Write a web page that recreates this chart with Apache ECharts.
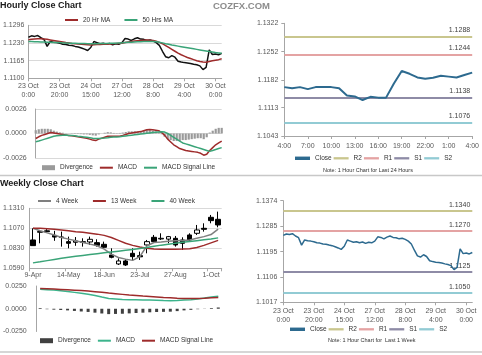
<!DOCTYPE html>
<html><head><meta charset="utf-8">
<script src="https://cdn.jsdelivr.net/npm/echarts@6/dist/echarts.min.js"></script>
<style>html,body{margin:0;padding:0;background:#fff}#c{width:482px;height:355px}</style>
</head><body><div id="c"></div>
<script>
// ---------- Hourly (last week, 2-hour steps) ----------
const hourlyTickLabels = ['23 Oct\n0:00','23 Oct\n20:00','24 Oct\n15:00','27 Oct\n12:00','28 Oct\n8:00','29 Oct\n4:00','30 Oct\n0:00'];
const hourlyClose = [1.1252,1.1257,1.1255,1.1258,1.1250,1.1244,1.1218,1.1236,1.1233,1.1232,
 1.1230,1.1226,1.1225,1.1222,1.1221,1.1218,1.1216,1.1212,1.1208,1.1203,
 1.1214,1.1236,1.1232,1.1228,1.1230,1.1226,1.1229,1.1224,1.1228,1.1226,
 1.1232,1.1247,1.1245,1.1240,1.1246,1.1250,1.1245,1.1244,1.1240,1.1242,
 1.1238,1.1232,1.1222,1.1200,1.1180,1.1176,1.1184,1.1178,1.1163,1.1160,
 1.1158,1.1157,1.1155,1.1152,1.1150,1.1146,1.1132,1.1140,1.1205,1.1188,
 1.1190,1.1187,1.1192];
const ma20 = [1.1243,1.1244,1.1245,1.1246,1.1246,1.1245,1.1244,1.1242,1.1240,1.1238,
 1.1236,1.1234,1.1232,1.1231,1.1229,1.1228,1.1227,1.1226,1.1225,1.1224,
 1.1223,1.1224,1.1225,1.1225,1.1226,1.1226,1.1227,1.1228,1.1229,1.1229,
 1.1230,1.1232,1.1234,1.1236,1.1238,1.1239,1.1240,1.1241,1.1242,1.1241,
 1.1240,1.1237,1.1233,1.1228,1.1221,1.1214,1.1207,1.1200,1.1193,1.1187,
 1.1182,1.1177,1.1173,1.1169,1.1165,1.1162,1.1160,1.1159,1.1162,1.1165,
 1.1167,1.1169,1.1172];
const ma50 = [1.1236,1.1236,1.1235,1.1235,1.1234,1.1234,1.1233,1.1233,1.1232,1.1232,
 1.1232,1.1231,1.1231,1.1230,1.1230,1.1230,1.1229,1.1229,1.1229,1.1228,
 1.1228,1.1228,1.1228,1.1229,1.1229,1.1229,1.1230,1.1230,1.1230,1.1231,
 1.1231,1.1232,1.1233,1.1233,1.1234,1.1235,1.1235,1.1236,1.1236,1.1236,
 1.1236,1.1235,1.1233,1.1231,1.1228,1.1226,1.1223,1.1221,1.1219,1.1217,
 1.1215,1.1213,1.1211,1.1209,1.1207,1.1205,1.1203,1.1201,1.1199,1.1197,
 1.1195,1.1194,1.1193];
const hourlyMacd = [-0.00053,-0.00035,-0.0002,-0.0001,0.0000,0.0001,0.00005,0.0000,-0.00005,-0.0001,
 -0.00015,-0.0002,-0.00025,-0.0003,-0.00035,-0.0004,-0.00045,-0.0005,-0.0006,-0.0007,
 -0.00075,-0.0006,-0.0005,-0.0004,-0.0003,-0.00028,-0.0003,-0.0003,-0.00028,-0.0002,
 -0.0001,0.0000,0.00005,0.0001,0.00015,0.0002,0.0003,0.0004,0.00042,0.0004,
 0.00035,0.0003,0.0001,-0.0002,-0.0006,-0.0009,-0.0012,-0.0014,-0.0016,-0.0017,
 -0.0018,-0.00185,-0.0019,-0.00195,-0.002,-0.0021,-0.0023,-0.0022,-0.0018,-0.0015,
 -0.0012,-0.001,-0.0008];
const hourlySignal = [-0.00088,-0.0008,-0.0007,-0.0006,-0.0005,-0.0004,-0.0003,-0.00025,-0.0002,-0.00018,
 -0.00017,-0.0002,-0.00022,-0.00025,-0.0003,-0.00033,-0.00036,-0.0004,-0.00045,-0.0005,
 -0.00052,-0.00052,-0.0005,-0.00048,-0.00045,-0.0004,-0.00038,-0.00036,-0.00034,-0.0003,
 -0.00026,-0.00022,-0.00018,-0.00014,-0.0001,-0.00006,-0.00002,0.00002,0.00006,0.0001,
 0.00013,0.00016,0.00018,0.00015,0.0000,-0.0002,-0.0004,-0.0006,-0.0008,-0.001,
 -0.0011,-0.0012,-0.0013,-0.0014,-0.0015,-0.0016,-0.0017,-0.0018,-0.0019,-0.0018,
 -0.0017,-0.0016,-0.0015];
const hourlyDivergence = [0.00035,0.00045,0.0005,0.0005,0.0005,0.00045,0.0003,0.0002,0.00012,0.00008,
 0.00002,0.0000,-0.00003,-0.00005,-0.00005,-0.00007,-0.0001,-0.0001,-0.00015,-0.0002,
 -0.00023,-0.0001,0.0000,0.00008,0.00015,0.00012,0.00006,0.00004,0.00006,0.0001,
 0.00016,0.00022,0.00023,0.00024,0.00021,0.00026,0.00028,0.00038,0.00036,0.0003,
 0.00022,0.00014,-0.00008,-0.00035,-0.0006,-0.0007,-0.0008,-0.0008,-0.0008,-0.0007,
 -0.0007,-0.00065,-0.0006,-0.00055,-0.0005,-0.0005,-0.0006,-0.0004,0.0001,0.0003,
 0.0005,0.0006,0.0006];
const hourlyPriceTicks = [1.1100,1.1165,1.1230,1.1296];
const hourlyMacdTicks = [-0.0026,0,0.0026];

// ---------- Last 24 hours ----------
const dayTickLabels = ['4:00','7:00','10:00','13:00','16:00','19:00','22:00','1:00','4:00'];
const dayClose = [1.1164,1.1161,1.1164,1.1159,1.1164,1.1164,1.1164,1.1161,1.1143,1.1141,1.1132,1.1140,1.1138,
 1.1138,1.1173,1.1204,1.1197,1.1188,1.1185,1.1187,1.1192,1.1190,1.1188,1.1194,1.1200];
const dayLevels = [1.1288,1.1244,1.1138,1.1076];
const dayPriceTicks = [1.1043,1.1113,1.1182,1.1252,1.1322];

// ---------- Weekly ----------
const weekTickLabels = ['9-Apr','14-May','18-Jun','23-Jul','27-Aug','1-Oct'];
const weekOpen  = [1.0930,1.1022,1.1040,1.0985,1.0966,1.0910,1.0902,1.0900,1.0906,1.0898,1.0878,1.0750,1.0642,1.0678,1.0770,1.0742,1.0870,1.0962,1.0942,1.0940,1.0950,1.0930,1.0990,1.1010,1.1070,1.1202,1.1178];
const weekClose = [1.0862,1.1032,1.1030,1.0965,1.0960,1.0890,1.0918,1.0910,1.0938,1.0866,1.0842,1.0722,1.0678,1.0630,1.0730,1.0728,1.0910,1.0910,1.0950,1.0970,1.0870,1.0890,1.0930,1.1050,1.1058,1.1162,1.1110];
const weekLow   = [1.0862,1.0890,1.1018,1.0920,1.0850,1.0830,1.0860,1.0850,1.0870,1.0850,1.0830,1.0710,1.0630,1.0618,1.0690,1.0690,1.0770,1.0898,1.0930,1.0890,1.0850,1.0810,1.0910,1.0990,1.1030,1.1130,1.1082];
const weekHigh  = [1.1070,1.1050,1.1060,1.1040,1.1030,1.0970,1.0965,1.0950,1.0970,1.0938,1.0910,1.0830,1.0710,1.0698,1.0830,1.0790,1.0930,1.0990,1.1010,1.0978,1.0978,1.0962,1.1010,1.1110,1.1130,1.1230,1.1270];
const week4  = [1.1070,1.1040,1.1015,1.0990,1.0960,1.0940,1.0920,1.0900,1.0880,1.0860,1.0820,1.0760,1.0720,1.0700,1.0685,1.0730,1.0860,1.0900,1.0905,1.0915,1.0920,1.0925,1.0930,1.0950,1.0970,1.0995,1.1060];
const week13 = [1.1070,1.1070,1.1066,1.1058,1.1050,1.1040,1.1030,1.1022,1.1012,1.1000,1.0985,1.0960,1.0925,1.0890,1.0865,1.0845,1.0830,1.0822,1.0820,1.0820,1.0820,1.0822,1.0825,1.0840,1.0865,1.0895,1.0925];
const week40 = [1.0655,1.0668,1.0682,1.0696,1.0710,1.0722,1.0734,1.0745,1.0756,1.0766,1.0776,1.0786,1.0796,1.0806,1.0816,1.0828,1.0840,1.0855,1.0868,1.0880,1.0892,1.0902,1.0912,1.0922,1.0932,1.0942,1.0955];
const weekMacd   = [0.0215,0.0210,0.0205,0.0198,0.0190,0.0180,0.0170,0.0160,0.0145,0.0128,0.0113,0.0108,0.0103,0.0100,0.0098,0.0096,0.0095,0.0093,0.0090,0.0088,0.0090,0.0095,0.0100,0.0108,0.0118,0.0128,0.0138];
const weekSignal = [0.0222,0.0220,0.0216,0.0212,0.0208,0.0204,0.0200,0.0194,0.0188,0.0180,0.0172,0.0165,0.0158,0.0151,0.0145,0.0139,0.0134,0.0129,0.0124,0.0120,0.0116,0.0113,0.0112,0.0113,0.0116,0.0120,0.0124];
const weekDivergence = [0.0008,-0.0005,-0.0010,-0.0014,-0.0018,-0.0024,-0.0030,-0.0035,-0.0043,-0.0052,-0.0059,-0.0057,-0.0055,-0.0051,-0.0047,-0.0043,-0.0039,-0.0036,-0.0034,-0.0032,-0.0026,-0.0018,-0.0012,-0.0005,0.0002,0.0008,0.0014];
const weekPriceTicks = [1.0590,1.0830,1.1070,1.1310];
const weekMacdTicks = [-0.025,0,0.025];

// ---------- Last week (hourly close with levels) ----------
const weekLevels = [1.1340,1.1270,1.1125,1.1050];
const weekLinePriceTicks = [1.1017,1.1106,1.1195,1.1285,1.1374];
const levelNames = ['R2','R1','S1','S2'];

// ---------- build ----------
const F = '"Liberation Sans", Arial, sans-serif';
const AX = '#a6a6a6', LBL = '#595959';
const levelColors = ['#c9c68e','#e4a3a3','#8e8ba6','#92cbd4'];
const CLOSE_BLUE = '#2d6a8f', RED = '#9e2b2b', GREEN = '#3aa478';

const hourlyCats = hourlyClose.map((_, i) => i % 10 === 0 ? hourlyTickLabels[i / 10] : '');
const dayCats = dayClose.map((_, i) => i % 3 === 0 ? dayTickLabels[i / 3] : '');
const weekCats = weekClose.map((_, i) => i % 5 === 0 ? weekTickLabels[i / 5] : '');

const fmt4 = v => v.toFixed(4);
function vAxis(gi, min, max, ticks, margin, split, tick) {
  return {
    type: 'value', gridIndex: gi, min, max, scale: true,
    axisLine: { show: true, lineStyle: { color: AX } },
    axisTick: { show: !!tick, length: 3, customValues: ticks, lineStyle: { color: AX } },
    axisLabel: { customValues: ticks, formatter: fmt4, fontSize: 7, color: LBL, margin, fontFamily: F },
    splitLine: { show: !!split, lineStyle: { color: '#d9d9d9' } }
  };
}
function cAxis(gi, data, gap, every, margin, lh, show) {
  return {
    type: 'category', gridIndex: gi, data, boundaryGap: gap, show: show !== false,
    axisLine: { show: true, onZero: false, lineStyle: { color: AX } },
    axisTick: { show: true, interval: every, length: 3, lineStyle: { color: AX } },
    axisLabel: { interval: every, fontSize: 7, color: LBL, margin, lineHeight: lh, fontFamily: F }
  };
}
const line = (name, xi, data, color, width, z) => ({
  name, type: 'line', xAxisIndex: xi, yAxisIndex: xi, data, symbol: 'none', z: z || 3,
  lineStyle: { color, width }, itemStyle: { color }, silent: true
});
const levelSeries = (xi, levels, suffix, dist) => levels.map((v, k) => ({
  name: levelNames[k] + suffix, type: 'line', xAxisIndex: xi, yAxisIndex: xi, data: [], z: 2,
  itemStyle: { color: levelColors[k] }, lineStyle: { color: levelColors[k] },
  markLine: {
    symbol: ['none', 'none'], silent: true, animation: false, precision: 4,
    lineStyle: { color: levelColors[k], type: 'solid', width: 2 },
    label: { position: 'insideEndTop', formatter: fmt4(v), fontSize: 7, color: '#404040', distance: dist, fontFamily: F },
    data: [{ yAxis: v }]
  }
}));

const LINE_ICON = 'path://M0,0h13v2h-13z';
const THICK_ICON = 'path://M0,0h13v3h-13z';
const BOX_ICON = 'path://M0,0h13v5h-13z';
const legendBase = {
  padding: 0, itemWidth: 13, itemHeight: 8, selectedMode: false,
  itemStyle: { borderWidth: 0 },
  textStyle: { fontSize: 6.5, color: '#333', lineHeight: 8, fontFamily: F },
  formatter: n => n.split('|')[0]
};
const lg = (o) => Object.assign({}, legendBase, o);

const option = {
  animation: false,
  textStyle: { fontFamily: F },
  title: [
    { text: 'Hourly Close Chart', left: 0, top: 1, padding: 0, textStyle: { fontSize: 9, fontWeight: 'bold', color: '#1a1a1a', fontFamily: F } },
    { text: 'COZFX.COM', left: 213, top: 1.5, padding: 0, textStyle: { fontSize: 9.5, fontWeight: 'bold', color: '#8c8c8c', fontFamily: F } },
    { text: 'Weekly Close Chart', left: 0, top: 179, padding: 0, textStyle: { fontSize: 9, fontWeight: 'bold', color: '#1a1a1a', fontFamily: F } }
  ],
  graphic: [
    { type: 'line', shape: { x1: 0, y1: 175.5, x2: 482, y2: 175.5 }, style: { stroke: '#c8c8c8', lineWidth: 1.5 } },
    { type: 'line', shape: { x1: 0, y1: 352, x2: 482, y2: 352 }, style: { stroke: '#c8c8c8', lineWidth: 1.5 } },
    { type: 'text', x: 368, y: 170.7, style: { text: 'Note: 1 Hour Chart for Last 24 Hours', fontSize: 5.5, fill: '#333', textAlign: 'center', textVerticalAlign: 'middle', fontFamily: F } },
    { type: 'text', x: 371.7, y: 340.7, style: { text: 'Note: 1 Hour Chart for  Last 1 Week', fontSize: 5.5, fill: '#333', textAlign: 'center', textVerticalAlign: 'middle', fontFamily: F } }
  ],
  grid: [
    { left: 24, top: 25.3, width: 197.7, height: 53 },
    { left: 24, top: 109, width: 197.7, height: 49 },
    { left: 284.3, top: 23.3, width: 191.7, height: 112.7 },
    { left: 23.3, top: 208.3, width: 198.4, height: 60 },
    { left: 23.3, top: 286, width: 198.4, height: 45.5 },
    { left: 283.3, top: 200.7, width: 189, height: 101.6 }
  ],
  xAxis: [
    cAxis(0, hourlyCats, false, 9, 3, 9.5),
    cAxis(1, hourlyCats, false, 9, 3, 9.5, false),
    cAxis(2, dayCats, false, 2, 6, 8),
    cAxis(3, weekCats, true, 4, 3, 8),
    cAxis(4, weekCats, true, 4, 3, 8, false),
    cAxis(5, hourlyCats, false, 9, 5, 8.5)
  ],
  yAxis: [
    vAxis(0, 1.1100, 1.1296, hourlyPriceTicks, 4, true, false),
    vAxis(1, -0.0026, 0.0026, hourlyMacdTicks, 9, true, false),
    vAxis(2, 1.1043, 1.1322, dayPriceTicks, 6, false, true),
    vAxis(3, 1.0590, 1.1310, weekPriceTicks, 5, true, false),
    vAxis(4, -0.025, 0.025, weekMacdTicks, 10, false, false),
    vAxis(5, 1.1017, 1.1374, weekLinePriceTicks, 6, false, true)
  ],
  legend: [
    lg({ left: 65, top: 16, itemGap: 14, data: [
      { name: '20 Hr MA', icon: LINE_ICON }, { name: '50 Hrs MA', icon: LINE_ICON }] }),
    lg({ left: 42, top: 163.7, itemGap: 7, data: [
      { name: 'Divergence|h', icon: BOX_ICON }, { name: 'MACD|h', icon: LINE_ICON }, { name: 'MACD Signal Line|h', icon: LINE_ICON }] }),
    lg({ left: 295, top: 154.3, itemGap: 2, itemWidth: 15, data: [
      { name: 'Close|d', icon: THICK_ICON }, { name: 'R2|d', icon: LINE_ICON }, { name: 'R1|d', icon: LINE_ICON }, { name: 'S1|d', icon: LINE_ICON }, { name: 'S2|d', icon: LINE_ICON }] }),
    lg({ left: 38, top: 197, itemGap: 15, data: [
      { name: '4 Week', icon: LINE_ICON }, { name: '13 Week', icon: LINE_ICON }, { name: '40 Week', icon: LINE_ICON }] }),
    lg({ left: 40, top: 336.7, itemGap: 7, data: [
      { name: 'Divergence|w', icon: BOX_ICON }, { name: 'MACD|w', icon: LINE_ICON }, { name: 'MACD Signal Line|w', icon: LINE_ICON }] }),
    lg({ left: 290, top: 325.3, itemGap: 2, itemWidth: 15, data: [
      { name: 'Close|w', icon: THICK_ICON }, { name: 'R2|w', icon: LINE_ICON }, { name: 'R1|w', icon: LINE_ICON }, { name: 'S1|w', icon: LINE_ICON }, { name: 'S2|w', icon: LINE_ICON }] })
  ],
  series: [
    line('Close|h', 0, hourlyClose, '#111', 1.5),
    line('20 Hr MA', 0, ma20, RED, 1.5, 4),
    line('50 Hrs MA', 0, ma50, GREEN, 1.5, 4),
    { name: 'Divergence|h', type: 'bar', xAxisIndex: 1, yAxisIndex: 1, data: hourlyDivergence, barWidth: 2.2, itemStyle: { color: '#9a9a9a' }, silent: true },
    line('MACD|h', 1, hourlyMacd, RED, 1.5, 4),
    line('MACD Signal Line|h', 1, hourlySignal, GREEN, 1.5, 4),
    line('Close|d', 2, dayClose, CLOSE_BLUE, 2, 5),
    ...levelSeries(2, dayLevels, '|d', [2, 3]),
    { name: 'Weekly', type: 'candlestick', xAxisIndex: 3, yAxisIndex: 3, barWidth: 5, silent: true,
      data: weekOpen.map((o, i) => [o, weekClose[i], weekLow[i], weekHigh[i]]),
      itemStyle: { color: '#fff', color0: '#000', borderColor: '#000', borderColor0: '#000', borderWidth: 1 } },
    line('4 Week', 3, week4, '#7f7f7f', 1.5, 4),
    line('13 Week', 3, week13, RED, 1.5, 4),
    line('40 Week', 3, week40, GREEN, 1.5, 4),
    { name: 'Divergence|w', type: 'bar', xAxisIndex: 4, yAxisIndex: 4, data: weekDivergence, barWidth: 3, itemStyle: { color: '#404040' }, silent: true },
    line('MACD|w', 4, weekMacd, '#3cb48c', 1.5, 4),
    line('MACD Signal Line|w', 4, weekSignal, RED, 1.5, 4),
    line('Close|w', 5, hourlyClose, CLOSE_BLUE, 1.5, 5),
    ...levelSeries(5, weekLevels, '|w', [2, 2])
  ]
};
const chart = echarts.init(document.getElementById('c'), null, { renderer: 'canvas' });
chart.setOption(option);
</script>
</body></html>
